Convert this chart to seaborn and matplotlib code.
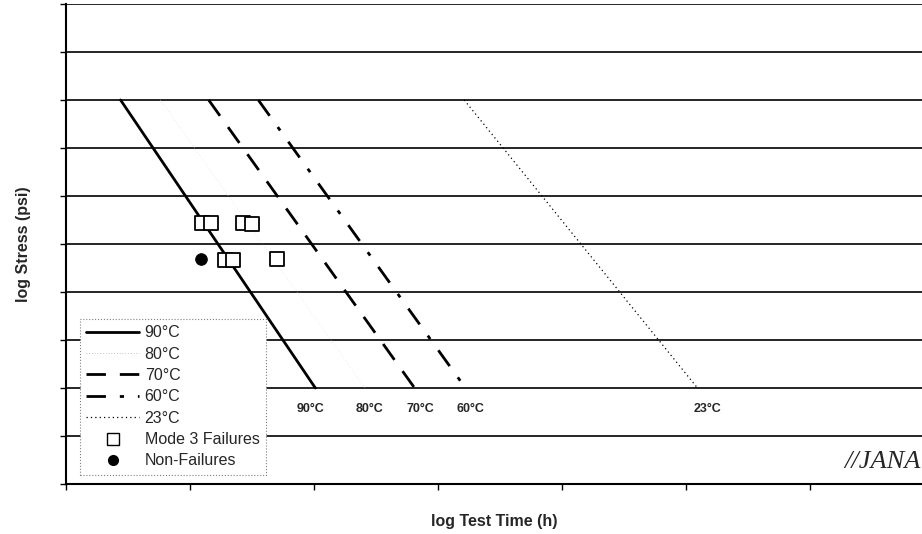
import numpy as np
import pandas as pd
import matplotlib
matplotlib.use('Agg')
import matplotlib.pyplot as plt
import seaborn as sns
from matplotlib.lines import Line2D

# regression lines, log time vs log stress (axis units)
temps = ['90°C', '80°C', '70°C', '60°C', '23°C']
time_start = [0.44, 0.76, 1.15, 1.55, 3.21]
time_end = [2.01, 2.41, 2.81, 3.22, 5.09]
stress_start = [8, 8, 8, 8, 8]
stress_end = [2, 2, 2, 2, 2]
label_x = [1.97, 2.45, 2.86, 3.26, 5.17]

# test points
fail_time = [1.10, 1.17, 1.43, 1.50, 1.28, 1.35, 1.70]
fail_stress = [5.44, 5.44, 5.44, 5.42, 4.67, 4.67, 4.68]
nonfail_time = [1.09]
nonfail_stress = [4.68]

sns.set_style('white')
plt.rcParams['font.family'] = ['Liberation Sans', 'DejaVu Sans']

fig = plt.figure(figsize=(9.22, 5.34), dpi=100)
ax = fig.add_axes([66 / 922, 50 / 534, 1 - 66 / 922, 480 / 534])

styles = {
    '90°C': dict(linestyle='-', linewidth=2.0, color='black'),
    '80°C': dict(linestyle=(0, (1, 3)), linewidth=0.5, color='#dddddd'),
    '70°C': dict(linestyle=(0, (7, 5)), linewidth=2.0, color='black'),
    '60°C': dict(linestyle=(0, (7, 5, 1.5, 5)), linewidth=2.0, color='black'),
    '23°C': dict(linestyle=(0, (1, 2.5)), linewidth=0.9, color='black'),
}

for i, t in enumerate(temps):
    df = pd.DataFrame({'time': [time_start[i], time_end[i]],
                       'stress': [stress_start[i], stress_end[i]]})
    sns.lineplot(data=df, x='time', y='stress', ax=ax, **styles[t])
    ax.text(label_x[i], 1.57, t, ha='center', va='center',
            fontsize=9, fontweight='bold')

sns.scatterplot(x=fail_time, y=fail_stress, ax=ax, marker='s', s=95,
                facecolor='white', edgecolor='black', linewidth=1.3, zorder=5)
sns.scatterplot(x=nonfail_time, y=nonfail_stress, ax=ax, marker='o', s=70,
                color='black', edgecolor='black', zorder=5)

ax.set_xlim(0, 6.9)
ax.set_ylim(0, 10)
ax.set_xticks(np.arange(0, 7))
ax.set_yticks(np.arange(0, 11))
ax.set_xticklabels([])
ax.set_yticklabels([])
ax.tick_params(axis='both', which='both', direction='out', length=4,
               width=1, color='black', bottom=True, left=True)
ax.yaxis.grid(True, color='black', linewidth=1.2)
ax.xaxis.grid(False)
for s in ['top', 'right']:
    ax.spines[s].set_visible(False)
for s in ['left', 'bottom']:
    ax.spines[s].set_color('black')
    ax.spines[s].set_linewidth(1.5)
ax.set_axisbelow(True)

ax.set_xlabel('log Test Time (h)', fontsize=11.5, fontweight='bold', labelpad=14)
ax.set_ylabel('log Stress (psi)', fontsize=11.5, fontweight='bold', labelpad=18)

handles = [Line2D([], [], **styles[t]) for t in temps]
handles[1].set_color('#888888')
handles.append(Line2D([], [], linestyle='none', marker='s', markersize=8,
                      markerfacecolor='white', markeredgecolor='black'))
handles.append(Line2D([], [], linestyle='none', marker='o', markersize=7,
                      markerfacecolor='black', markeredgecolor='black'))
labels = temps + ['Mode 3 Failures', 'Non-Failures']
leg = ax.legend(handles, labels, loc='lower left', bbox_to_anchor=(0.0164, 0.019),
                borderaxespad=0, fontsize=11.5, handlelength=3.3,
                labelspacing=0.4, borderpad=0.4, handletextpad=0.35,
                fancybox=False, framealpha=1)
leg.get_frame().set_edgecolor('gray')
leg.get_frame().set_linestyle(':')
leg.get_frame().set_linewidth(0.8)

ax.text(0.998, 0.045, '//JANA', transform=ax.transAxes, ha='right', va='center',
        fontsize=19, fontstyle='italic', family=['Liberation Serif', 'DejaVu Serif'])

fig.savefig('out.png', dpi=100)
